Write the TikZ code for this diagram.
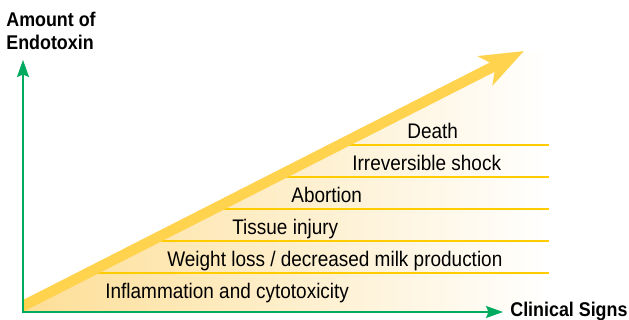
\documentclass[tikz,border=0pt]{standalone}
\usepackage{fontspec}
\newfontfamily\labelfont[FakeStretch=0.9]{Liberation Sans}
\usetikzlibrary{arrows.meta,positioning}
\definecolor{AxisGreen}{RGB}{0,170,95}
\definecolor{ArrowYellow}{RGB}{255,211,77}
\definecolor{RuleYellow}{RGB}{255,204,0}
\definecolor{SoftAmber}{RGB}{253,222,150}
\tikzset{
  axis/.style={draw=AxisGreen,line width=0.035cm,
    >={Stealth[length=0.34cm,width=0.24cm,inset=0.05cm]},<->},
  rule/.style={draw=RuleYellow,line width=0.03cm},
  sign/.style={font=\labelfont\fontsize{12}{14}\selectfont,
    anchor=base west,inner sep=0pt},
  axislabel/.style={font=\labelfont\bfseries\fontsize{11.3}{13}\selectfont,
    inner sep=0pt,align=left},
  growth/.style={draw=ArrowYellow,line width=0.21cm,
    -{Stealth[length=0.86cm,width=0.64cm,inset=0.22cm]}}
}

\begin{document}
\begin{tikzpicture}[x=0.02cm,y=-0.02cm]
\useasboundingbox (0,0) rectangle (629,320);

\coordinate (origin) at (23,312);
\coordinate (ytop) at (23,60);
\coordinate (xend) at (503,312);
\coordinate (tail) at (13,311);
\coordinate (tip) at (524,51);

% shaded band under the arrow
\shade[left color=SoftAmber,right color=white]
  (23,311) -- (23,306) -- (tip) -- (549,51) -- (549,311) -- cycle;

% rules between the stages
\draw[rule] (339,145) -- (549,145);
\draw[rule] (276,177) -- (549,177);
\draw[rule] (214,209) -- (549,209);
\draw[rule] (151,241) -- (549,241);
\draw[rule] (88,273) -- (549,273);

% stages
\node[sign] (death) at (407,139) {Death};
\node[sign] (shock) at (352,171) {Irreversible shock};
\node[sign] (abortion) at (291,203) {Abortion};
\node[sign] (injury) at (232,235) {Tissue injury};
\node[sign] (weight) at (167,267) {Weight loss / decreased milk production};
\node[sign] (inflam) at (105,299) {Inflammation and cytotoxicity};

% rising arrow
\begin{scope}
  \clip (23,0) rectangle (629,311);
  \draw[growth] (tail) -- (tip);
\end{scope}

% axes
\draw[axis] (ytop) -- (origin) -- (xend);
\node[axislabel,anchor=north west] (yname) at (6,11.5) {Amount of\\Endotoxin};
\node[axislabel,anchor=base west] (xname) at (510,317) {Clinical Signs};

\end{tikzpicture}
\end{document}
